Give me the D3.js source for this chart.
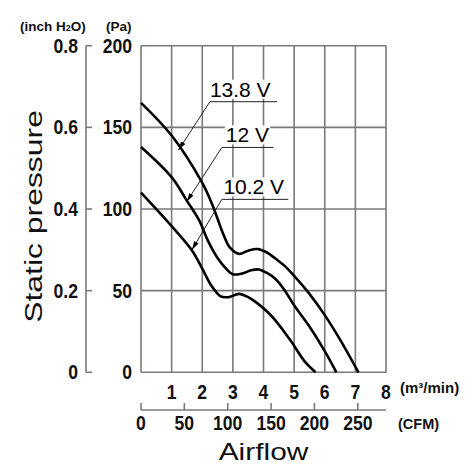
<!DOCTYPE html>
<html><head><meta charset="utf-8">
<script src="https://cdn.jsdelivr.net/npm/d3@7"></script>
<style>body{margin:0;background:#fff}svg{display:block}</style>
</head><body>
<script>
// ---- data ----
const m3Ticks = [1, 2, 3, 4, 5, 6, 7, 8];
const cfmTicks = [0, 50, 100, 150, 200, 250];
const paTicks = [0, 50, 100, 150, 200];
const inchTicks = [0, 0.2, 0.4, 0.6, 0.8];
const seriesNames = ["13.8 V", "12 V", "10.2 V"];
// airflow (m3/min), static pressure (Pa)
const v138 = [[0,165],[1,145],[2,116],[2.3,104],[2.5,94],[2.7,84],[2.9,76.5],[3.2,72.5],[3.5,74.5],[3.8,75.5],[4.1,73.5],[4.4,69.5],[4.7,65],[5.0,59],[5.5,48],[6.0,35],[6.5,20],[7.1,0]];
const v12  = [[0,138],[1,119.5],[1.5,105],[1.9,93],[2.2,80],[2.5,70],[2.8,63],[3.0,60],[3.3,60.5],[3.6,62.5],[3.85,63],[4.1,61],[4.4,57],[4.7,50],[5.0,41],[5.5,28],[6.0,13],[6.38,0]];
const v102 = [[0,110],[1,89.5],[1.65,75],[2.0,63.5],[2.3,53],[2.6,46.5],[2.85,46],[3.2,48],[3.5,46],[3.75,43],[4.1,37.5],[4.4,31.5],[4.9,19],[5.35,6.5],[5.7,0]];
const seriesData = [v138, v12, v102];
// label annotation anchors in data units: [textStart m, underline start m, underline end m, underline Pa]
const labelAnchors = [[2.25, 2.25, 4.44, 165.7], [2.77, 2.64, 4.32, 137.7], [2.69, 2.64, 4.81, 105.9]];
const arrowTips = [[1.22, 136], [1.49, 104.4], [1.66, 74.9]];
const M3_TO_CFM = 35.3147;

// ---- drawing ----
const W = 472, H = 471;
const svg = d3.select("body").append("svg").attr("width", W).attr("height", H);
const x = d3.scaleLinear([0, 8], [141, 386]);
const y = d3.scaleLinear([0, 200], [372.3, 45.7]);
const xc = d3.scaleLinear([0, 8 * M3_TO_CFM], [141, 386]);
const yi = d3.scaleLinear([0, 0.8], [372.3, 45.7]);
const gridCol = "#7a7a7a";
const numFont = "'Liberation Sans', Arial, sans-serif";

// grid
const g = svg.append("g");
g.selectAll(".vg").data(d3.range(0, 9)).join("line")
  .attr("x1", d => x(d)).attr("x2", d => x(d)).attr("y1", y(0)).attr("y2", y(200))
  .attr("stroke", gridCol).attr("stroke-width", 1.6);
g.selectAll(".hg").data(paTicks).join("line")
  .attr("x1", x(0)).attr("x2", x(8)).attr("y1", d => y(d)).attr("y2", d => y(d))
  .attr("stroke", gridCol).attr("stroke-width", 1.6);

// inch axis
svg.append("line").attr("x1", 86).attr("x2", 86).attr("y1", yi(0)).attr("y2", yi(0.8))
  .attr("stroke", gridCol).attr("stroke-width", 1.6);
svg.selectAll(".it").data(inchTicks).join("line")
  .attr("x1", 86).attr("x2", 92).attr("y1", d => yi(d)).attr("y2", d => yi(d))
  .attr("stroke", gridCol).attr("stroke-width", 1.6);

function numText(sel, xx, yy, txt, anchor) {
  sel.append("text").attr("transform", `translate(${xx},${yy}) scale(0.88,1.04)`)
    .attr("text-anchor", anchor).attr("font-family", numFont).attr("font-weight", "bold")
    .attr("font-size", 20).attr("fill", "#111").text(txt);
}
inchTicks.forEach(d => numText(svg, 78, yi(d) + 7, d === 0 ? "0" : d.toFixed(1), "end"));
paTicks.forEach(d => numText(svg, 132, y(d) + 7, String(d), "end"));
m3Ticks.forEach(d => numText(svg, x(d), 399, String(d), "middle"));

// CFM axis
svg.append("line").attr("x1", xc(0)).attr("x2", x(8)).attr("y1", 410).attr("y2", 410)
  .attr("stroke", gridCol).attr("stroke-width", 1.6);
svg.selectAll(".ct").data(cfmTicks).join("line")
  .attr("x1", d => xc(d)).attr("x2", d => xc(d)).attr("y1", 410).attr("y2", 403)
  .attr("stroke", gridCol).attr("stroke-width", 1.6);
cfmTicks.forEach(d => numText(svg, xc(d), 430, String(d), "middle"));

// units
const unitStyle = s => s.attr("font-family", numFont).attr("font-weight", "bold").attr("font-size", 13.5).attr("fill", "#111");
const t1 = svg.append("text").attr("x", 20).attr("y", 31).call(unitStyle);
t1.append("tspan").text("(inch H");
t1.append("tspan").attr("font-size", 9).text("2");
t1.append("tspan").text("O)");
svg.append("text").attr("x", 106).attr("y", 31).call(unitStyle).text("(Pa)");
svg.append("text").attr("x", 400).attr("y", 393).call(unitStyle).attr("font-size", 15).text("(m³/min)");
svg.append("text").attr("x", 398).attr("y", 429).call(unitStyle).attr("font-size", 14.5).text("(CFM)");

// axis titles
svg.append("text").attr("transform", `translate(${(x(0) + x(8)) / 2},460) scale(1.3,1)`)
  .attr("text-anchor", "middle").attr("font-family", numFont).attr("font-size", 23).attr("fill", "#111").text("Airflow");
svg.append("text").attr("transform", `translate(42,216.5) rotate(-90) scale(1.33,1)`)
  .attr("text-anchor", "middle").attr("font-family", numFont).attr("font-size", 24).attr("fill", "#111").text("Static pressure");

// curves
const line = d3.line().x(d => x(d[0])).y(d => y(d[1])).curve(d3.curveCatmullRom.alpha(0.5));
svg.selectAll(".curve").data(seriesData).join("path")
  .attr("d", line).attr("fill", "none").attr("stroke", "#000").attr("stroke-width", 2.6);

// annotations
svg.append("defs").append("marker").attr("id", "ah").attr("markerUnits", "userSpaceOnUse")
  .attr("markerWidth", 10).attr("markerHeight", 6).attr("refX", 9).attr("refY", 3).attr("orient", "auto")
  .append("path").attr("d", "M0,0.5 L9,3 L0,5.5 Z").attr("fill", "#000");
seriesNames.forEach((name, i) => {
  const [ts, us, ue, up] = labelAnchors[i];
  const [tm, tp] = arrowTips[i];
  const ag = svg.append("g");
  const txt = ag.append("text").attr("x", x(ts)).attr("y", y(up) - 5)
    .attr("font-family", numFont).attr("font-size", 21).attr("fill", "#000").text(name);
  const bb = txt.node().getBBox();
  ag.insert("rect", "text").attr("x", bb.x - 1).attr("y", bb.y + 2).attr("width", bb.width + 2).attr("height", bb.height - 4).attr("fill", "#fff");
  ag.append("line").attr("x1", x(us)).attr("x2", x(ue)).attr("y1", y(up)).attr("y2", y(up))
    .attr("stroke", "#222").attr("stroke-width", 1);
  ag.append("line").attr("x1", x(us)).attr("y1", y(up)).attr("x2", x(tm)).attr("y2", y(tp))
    .attr("stroke", "#222").attr("stroke-width", 1).attr("marker-end", "url(#ah)");
});
</script>
</body></html>
